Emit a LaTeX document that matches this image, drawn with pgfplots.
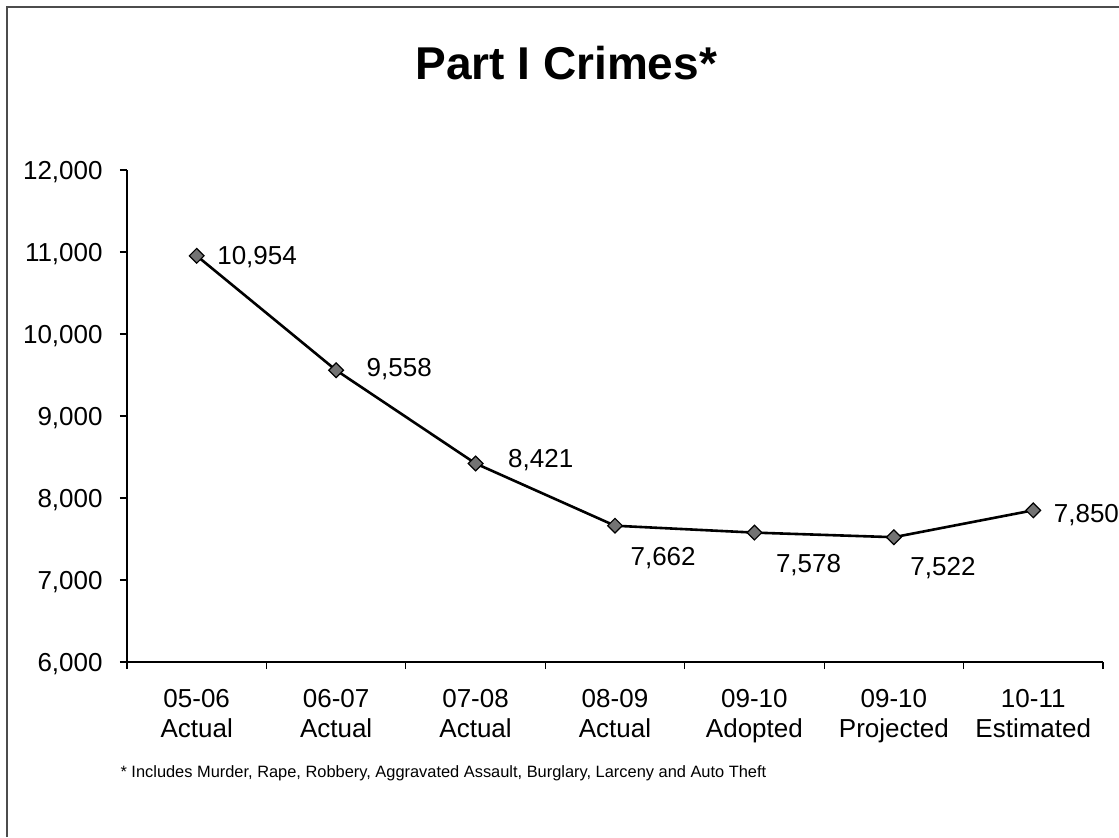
\documentclass[border=0pt]{standalone}
\usepackage{fontspec}
\setmainfont{Liberation Sans}
\usepackage{pgfplots}
\pgfplotsset{compat=1.18}
\usepackage{pgfplotstable}

\pgfplotstableread{
x y dx dy
1 10954 10 -4.6
2 9558 15 -3.1
3 8421 16 -2.1
4 7662 7.5 -20.1
5 7578 10.5 -20.1
6 7522 8 -19.1
7 7850 10 -6.1
}\crimes

\newcommand\twoline[2]{\vtop{\baselineskip=15pt\halign{\hfil##\hfil\cr#1\cr#2\cr}}}

\begin{document}
\begin{tikzpicture}
\useasboundingbox (-63.5pt,-87.5pt) rectangle (496pt,331pt);
\draw[black!70, line width=0.7pt] (-60pt,-87.5pt) -- (-60pt,327.5pt) -- (496pt,327.5pt);
\begin{axis}[
  scale only axis, width=488pt, height=246pt,
  xmin=0.5, xmax=7.5, ymin=6000, ymax=12000,
  clip=false,
  axis lines=left, axis line style={-, line width=0.8pt},
  tick align=outside, major tick length=3.5pt,
  tick style={black, line width=0.6pt},
  /pgf/number format/1000 sep={,},
  /pgf/number format/assume math mode=true,
  ytick={6000,7000,...,12000},
  scaled y ticks=false,
  yticklabel style={font=\fontsize{13}{15}\selectfont, anchor=base east, inner sep=0pt, yshift=-4.65pt, xshift=-8.5pt},
  xtick={0.5,1.5,...,7.5}, xticklabels={},
  extra x ticks={1,2,...,7},
  extra x tick labels={\twoline{05-06}{Actual},\twoline{06-07}{Actual},\twoline{07-08}{Actual},\twoline{08-09}{Actual},\twoline{09-10}{Adopted},\twoline{09-10}{Projected},\twoline{10-11}{Estimated}},
  extra x tick style={major tick length=0pt, xticklabel style={anchor=base, inner sep=0pt, yshift=-22.5pt, font=\fontsize{13}{15}\selectfont}},
]
\addplot[black, line width=1.3pt, mark=square*, mark size=2.6pt,
  mark options={rotate=45, fill=black!55, draw=black, line width=0.6pt},
  visualization depends on={\thisrow{dx} \as \dx},
  visualization depends on={\thisrow{dy} \as \dy},
  point meta=\thisrow{y},
  nodes near coords={\pgfmathprintnumber{\pgfplotspointmeta}},
  nodes near coords style={anchor=base west, inner sep=0pt, xshift=\dx pt, yshift=\dy pt, font=\fontsize{13}{15}\selectfont, black}
] table[x=x, y=y] {\crimes};
\node[anchor=base, font=\bfseries\fontsize{23}{27}\selectfont, inner sep=0pt] at (axis description cs:0.45,1.183) {Part I Crimes*};
\node[anchor=base west, font=\fontsize{8.2}{10}\selectfont, inner sep=0pt] at (axis description cs:-0.007,-0.234) {* Includes Murder, Rape, Robbery, Aggravated Assault, Burglary, Larceny and Auto Theft};
\end{axis}
\end{tikzpicture}
\end{document}
